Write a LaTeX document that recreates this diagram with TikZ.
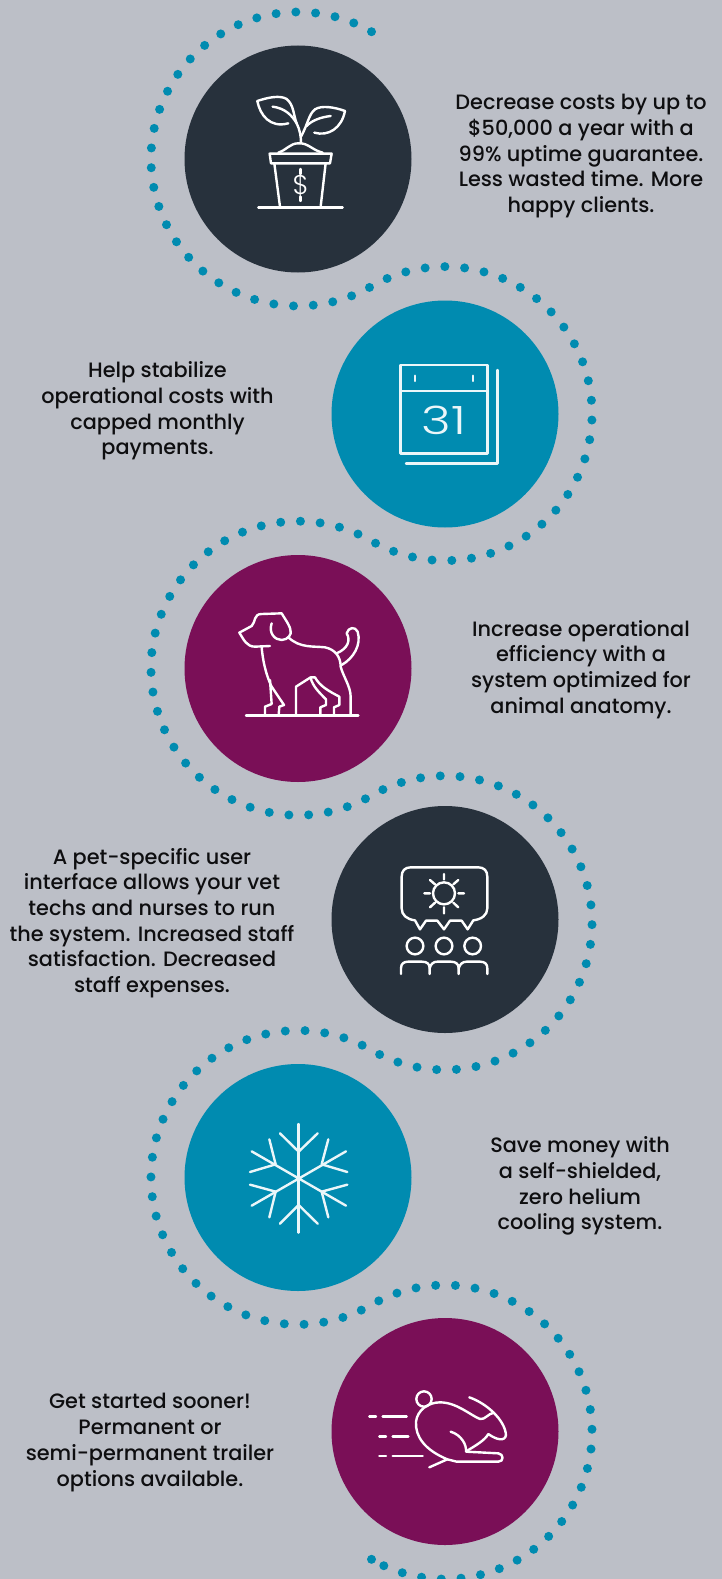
\documentclass[tikz,border=0pt]{standalone}
\usepackage{fontspec}
\setmainfont{Poppins Medium}
\newfontfamily\iconfont{Poppins Light}
\definecolor{bg}{HTML}{BCBFC7}
\definecolor{ink}{HTML}{27313C}
\definecolor{teal}{HTML}{008BB0}
\definecolor{plum}{HTML}{7A0F57}
\definecolor{txt}{HTML}{0E0E10}
\tikzset{
  disc/.style={circle,minimum size=227pt,inner sep=0pt,draw=none},
  caption/.style={align=center,text=txt,inner sep=0pt,font=\fontsize{20.8}{25.7}\selectfont},
  ring/.style={teal,line width=9pt,line cap=round,dash pattern=on 0pt off 19.79pt},
  ico/.style={draw=white,line width=2.4pt,line cap=round,line join=round},
}
\begin{document}
\begin{tikzpicture}[x=1pt,y=-1pt]
\useasboundingbox (0,0) rectangle (722,1579);
\fill[bg] (0,0) rectangle (722,1579);
% dotted ribbon
\draw[ring] (298+73.5,159-127.3) arc[start angle=-60,end angle=-300,radius=147]
  arc[start angle=-120,end angle=120,radius=147]
  arc[start angle=-60,end angle=-300,radius=147]
  arc[start angle=-120,end angle=120,radius=147]
  arc[start angle=-60,end angle=-300,radius=147]
  arc[start angle=-120,end angle=120,radius=147];
\fill[teal] (445-73.5,1432+127.3) circle[radius=4.5];
\node[disc,fill=ink] (c1) at (298,159) {};
\node[disc,fill=teal] (c2) at (445,414) {};
\node[disc,fill=plum] (c3) at (298,668.5) {};
\node[disc,fill=ink] (c4) at (445,919.5) {};
\node[disc,fill=teal] (c5) at (298,1177.5) {};
\node[disc,fill=plum] (c6) at (445,1431.5) {};
\node[caption] (t1) at (581,156.2) {Decrease costs by up to\\\$50,000 a year with a\\99\% uptime guarantee.\\Less wasted time. More\\happy clients.};
\node[caption] (t2) at (157.5,411) {Help stabilize\\operational costs with\\capped monthly\\payments.};
\node[caption] (t3) at (581,669.5) {Increase operational\\efficiency with a\\system optimized for\\animal anatomy.};
\node[caption] (t4) at (152,923) {A pet-specific user\\interface allows your vet\\techs and nurses to run\\the system. Increased staff\\satisfaction. Decreased\\staff expenses.};
\node[caption] (t5) at (580,1186) {Save money with\\a self-shielded,\\zero helium\\cooling system.};
\node[caption] (t6) at (150,1442.5) {Get started sooner!\\Permanent or\\semi-permanent trailer\\options available.};
% plant
\begin{scope}[shift={(140pt,0pt)},x=.3333pt,y=-.3333pt]
\draw[ico] (352,303) .. controls (385,292) and (420,285) .. (440,297) .. controls (462,315) and (460,345) .. (470,370) .. controls (480,390) and (483,410) .. (483,428);
\draw[ico] (352,303) .. controls (360,345) and (390,385) .. (445,370);
\draw[ico] (398,320) .. controls (435,325) and (455,345) .. (470,370);
\draw[ico] (615,333) .. controls (585,322) and (545,315) .. (525,328) .. controls (505,345) and (505,370) .. (483,410);
\draw[ico] (615,333) .. controls (605,385) and (565,410) .. (523,398);
\draw[ico] (572,348) .. controls (540,352) and (515,362) .. (500,378);
\draw[ico] (415,458) .. controls (440,450) and (450,430) .. (475,430) .. controls (505,428) and (515,450) .. (548,458);
\draw[ico] (389,461) -- (575,461) -- (570,490) -- (393,490) -- cycle;
\draw[ico] (403,490) -- (420,620) (557,490) -- (542,620);
\draw[ico] (355,622) -- (608,622);
\draw[ico] (482,507) -- (482,522) (482,590) -- (482,603);
\node[text=white,inner sep=0pt,font=\iconfont\fontsize{27}{27}\selectfont] (dollar) at (482,556) {\$};
\end{scope}
% calendar
\begin{scope}[shift={(370pt,-340pt)},x=.3333pt,y=-.3333pt]
\draw[ico,draw=white!92!teal] (92,75) rectangle (353,340);
\draw[ico,draw=white!92!teal] (92,153) -- (353,153) (135,107) -- (135,123) (309,107) -- (309,123);
\draw[ico,draw=white!92!teal] (383,90) -- (383,371) -- (108,371);
\node[text=white!92!teal,inner sep=0pt,xscale=1.3,font=\iconfont\fontsize{39}{39}\selectfont] (day) at (222,240) {31};
\end{scope}
% dog
\begin{scope}[shift={(220pt,-590pt)},x=.3333pt,y=-.3333pt]
\draw[ico] (150,168) -- (105,170) .. controls (80,170) and (72,150) .. (58,128) -- (95,108) .. controls (108,95) and (100,72) .. (125,72) -- (185,70) .. controls (200,95) and (212,110) .. (212,125);
\draw[ico] (155,100) .. controls (145,130) and (165,150) .. (185,150) .. controls (205,150) and (215,130) .. (212,125);
\draw[ico] (205,142) .. controls (240,175) and (280,168) .. (315,172) .. controls (345,178) and (362,200) .. (362,230) .. controls (370,260) and (392,290) .. (392,320) -- (392,375);
\draw[ico] (350,190) .. controls (385,175) and (392,150) .. (380,130) .. controls (385,112) and (405,108) .. (413,125) .. controls (425,165) and (400,205) .. (365,225);
\draw[ico] (125,172) .. controls (130,230) and (145,270) .. (155,290) -- (192,345) -- (178,350) -- (176,375);
\draw[ico] (150,270) -- (155,342) -- (135,350) -- (135,375);
\draw[ico] (228,375) -- (228,290) -- (272,262) -- (285,262) .. controls (300,290) and (330,305) .. (358,320) -- (358,345) -- (342,352) -- (342,375);
\draw[ico] (272,265) .. controls (280,290) and (295,305) .. (318,328) -- (318,345) -- (301,352) -- (301,375);
\draw[ico] (78,376) -- (415,376);
\end{scope}
% audience
\begin{scope}[shift={(380pt,-850pt)},x=.3333pt,y=-.3333pt]
\draw[ico] (105,211) .. controls (80,208) and (65,195) .. (65,175) -- (65,80) .. controls (65,62) and (75,52) .. (92,52) -- (295,52) .. controls (312,52) and (322,62) .. (322,80) -- (322,175) .. controls (322,195) and (305,208) .. (280,211) -- (263,238) -- (245,212) -- (210,212) -- (192,238) -- (172,212) -- (138,212) -- (120,238) -- (105,211);
\draw[ico] (192,130) circle[radius=33];
\draw[ico] (192,72) -- (192,88) (192,172) -- (192,190) (133,130) -- (150,130) (235,130) -- (252,130) (150,90) -- (165,103) (235,90) -- (220,103) (150,172) -- (165,158) (235,172) -- (220,158);
\draw[ico] (105,288) circle[radius=25] (192,288) circle[radius=25] (278,288) circle[radius=25];
\draw[ico] (63,372) -- (63,355) .. controls (63,340) and (72,335) .. (85,335) -- (125,335) .. controls (142,335) and (149,342) .. (149,355) -- (149,372);
\draw[ico] (149,355) .. controls (152,342) and (160,335) .. (172,335) -- (212,335) .. controls (228,335) and (236,342) .. (236,355) -- (236,372);
\draw[ico] (236,355) .. controls (240,342) and (248,335) .. (260,335) -- (300,335) .. controls (315,335) and (322,342) .. (322,355) -- (322,372);
\end{scope}
% snowflake
\begin{scope}[shift={(230pt,-1110pt)},x=.3333pt,y=-.3333pt]
\begin{scope}[every path/.style={ico,draw=white!92!teal}]
\draw (206,42) -- (206,368);
\draw (65,124) -- (348,287) (348,124) -- (65,287);
\draw (150,70) -- (206,125) -- (263,70) (150,341) -- (206,285) -- (263,341);
\draw (118,88) -- (137,163) -- (60,186) (295,88) -- (275,163) -- (352,186);
\draw (60,224) -- (137,245) -- (118,322) (352,224) -- (275,245) -- (295,322);
\end{scope}
\end{scope}
% running animal
\begin{scope}[shift={(360pt,-1370pt)},x=.3333pt,y=-.3333pt]
\draw[ico] (192,87) circle[radius=23];
\draw[ico] (208,292) -- (262,268) .. controls (195,240) and (165,200) .. (168,155) .. controls (172,120) and (205,97) .. (240,97) .. controls (290,97) and (330,135) .. (360,147) .. controls (375,150) and (385,130) .. (402,128);
\draw[ico] (328,82) .. controls (380,100) and (435,150) .. (438,195) .. controls (435,215) and (410,210) .. (385,192) .. controls (375,210) and (350,225) .. (320,243);
\draw[ico] (272,185) .. controls (305,195) and (320,225) .. (318,245) -- (415,250) .. controls (432,252) and (432,275) .. (415,275) -- (290,275) -- (262,268);
\draw[ico] (28,140) -- (48,140) (68,140) -- (140,140) (58,199) -- (78,199) (98,199) -- (145,199) (58,258) -- (78,258) (98,258) -- (188,258);
\end{scope}
\end{tikzpicture}
\end{document}
